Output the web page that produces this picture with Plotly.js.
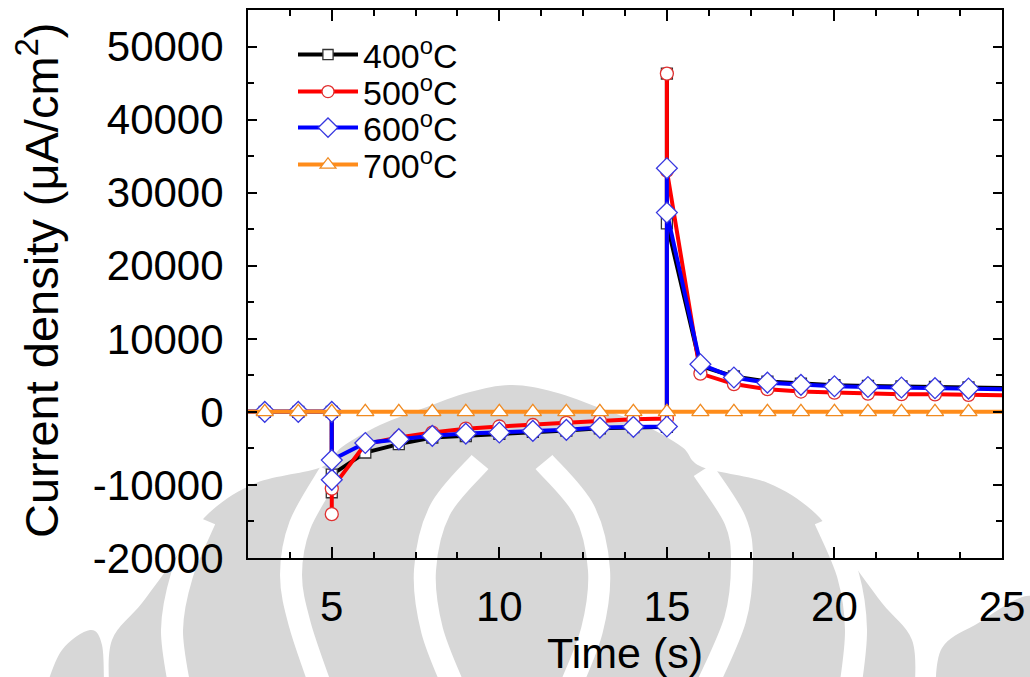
<!DOCTYPE html>
<html>
<head>
<meta charset="utf-8">
<script src="https://cdn.plot.ly/plotly-3.0.1.min.js"></script>
<style>html,body{margin:0;padding:0;background:#fff;}#chart{width:1030px;height:677px;}</style>
</head>
<body>
<div id="chart"></div>
<script>
// ---- data ----
const seriesNames = ["400<sup>o</sup>C", "500<sup>o</sup>C", "600<sup>o</sup>C", "700<sup>o</sup>C"];

const time400 = [2, 3, 4, 5, 5, 5, 6, 7, 8, 9, 10, 11, 12, 13, 14, 15, 15, 15, 16, 17, 18, 19, 20, 21, 22, 23, 24, 25];
const current400 = [0, 0, 0, 0, -11000, -8600, -5560, -4420, -3510, -3300, -3000, -2750, -2550, -2250, -2100, -2050, 46300, 25800, 6300, 4850, 4150, 3850, 3650, 3550, 3480, 3400, 3350, 3250];

const time500 = [2, 3, 4, 5, 5, 5, 6, 7, 8, 9, 10, 11, 12, 13, 14, 15, 15, 15, 16, 17, 18, 19, 20, 21, 22, 23, 24, 25];
const current500 = [0, 0, 0, 0, -14000, -10500, -4400, -3500, -2830, -2300, -2000, -1800, -1500, -1250, -1000, -900, 46300, 33000, 5240, 3800, 3100, 2780, 2640, 2500, 2420, 2400, 2330, 2280];

const time600 = [2, 3, 4, 5, 5, 5, 6, 7, 8, 9, 10, 11, 12, 13, 14, 15, 15, 15, 16, 17, 18, 19, 20, 21, 22, 23, 24, 25];
const current600 = [0, 0, 0, 0, -9300, -6600, -4260, -3740, -3280, -2970, -2830, -2600, -2460, -2150, -2050, -2000, 33340, 27270, 6520, 4700, 4000, 3700, 3500, 3400, 3330, 3240, 3190, 3100];

const time700 = [2, 3, 4, 5, 6, 7, 8, 9, 10, 11, 12, 13, 14, 15, 16, 17, 18, 19, 20, 21, 22, 23, 24, 25];
const current700 = [0, 0, 0, 0, 0, 0, 0, 0, 0, 0, 0, 0, 0, 0, 0, 0, 0, 0, 0, 0, 0, 0, 0, 0];

const xTickVals = [5, 10, 15, 20, 25];
const xTickText = ["5", "10", "15", "20", "25"];
const yTickVals = [-20000, -10000, 0, 10000, 20000, 30000, 40000, 50000];
const yTickText = ["-20000", "-10000", "0", "10000", "20000", "30000", "40000", "50000"];

// ---- styling ----
const FONT = "Liberation Sans, Arial, Helvetica, sans-serif";
const XR = [2.5, 25], YR = [-20000, 55000];
function sizesFor(xs, s) { return xs.map(v => (v < XR[0] || v > 24.9) ? 0 : s); }

const styles = [
  {line: "#000000", mk: "square", mkLine: "#333333", size: 11},
  {line: "#FF0000", mk: "circle", mkLine: "#E03030", size: 13},
  {line: "#0000FF", mk: "diamond", mkLine: "#3838E0", size: 16},
  {line: "#FF8C1A", mk: "triangle-up", mkLine: "#F08A20", size: 15}
];
const xs = [time400, time500, time600, time700];
const ys = [current400, current500, current600, current700];
const legendIds = ["legend", "legend2", "legend3", "legend4"];

const traces = xs.map((x, i) => ({
  type: "scatter", mode: "lines+markers", name: seriesNames[i],
  x: x, y: ys[i], legend: legendIds[i],
  line: {color: styles[i].line, width: 4},
  marker: {symbol: styles[i].mk, size: sizesFor(x, styles[i].size), color: "#FFFFFF", opacity: 1,
           line: {color: styles[i].mkLine, width: 1.3}},
  cliponaxis: true
}));

// plot-area geometry in pixels (for watermark shapes and annotations)
const L = 248, R = 1002, T = 10, B = 558;
const pxX = v => (v - L) / (R - L);
const pxY = v => (B - v) / (B - T);
// smooth path (Catmull-Rom -> Bezier) through pixel points, output in paper units
function smoothPath(pts, close) {
  const P = pts.map(p => [pxX(p[0]), pxY(p[1])]);
  let d = "M " + P[0][0] + "," + P[0][1];
  for (let i = 0; i < P.length - 1; i++) {
    const p0 = P[Math.max(i - 1, 0)], p1 = P[i], p2 = P[i + 1], p3 = P[Math.min(i + 2, P.length - 1)];
    const c1 = [p1[0] + (p2[0] - p0[0]) / 6, p1[1] + (p2[1] - p0[1]) / 6];
    const c2 = [p2[0] - (p3[0] - p1[0]) / 6, p2[1] - (p3[1] - p1[1]) / 6];
    d += " C " + c1[0] + "," + c1[1] + " " + c2[0] + "," + c2[1] + " " + p2[0] + "," + p2[1];
  }
  return d + (close ? " Z" : "");
}
const WM = "rgb(215,215,215)";
function wmFill(pts) {
  return {type: "path", xref: "paper", yref: "paper", layer: "below", fillcolor: WM,
          line: {width: 0}, path: smoothPath(pts, true)};
}
function wmGap(pts, w) {
  return {type: "path", xref: "paper", yref: "paper", layer: "below",
          line: {color: "#FFFFFF", width: w}, path: smoothPath(pts, false)};
}
const shapes = [
  wmFill([[109, 690], [112, 640], [142, 603], [176, 557], [209, 513], [256, 483], [322, 467], [342, 447],
          [380, 425], [424, 408], [470, 392], [512, 385], [554, 392], [600, 408], [644, 425], [682, 447],
          [702, 467], [768, 483], [815, 513], [848, 557], [882, 603], [912, 640], [915, 690]]),
  wmFill([[45, 690], [62, 650], [90, 630], [102, 645], [104, 690]]),
  wmFill([[935, 690], [942, 648], [975, 625], [1035, 598], [1035, 690]]),
  wmGap([[480, 462], [440, 510], [425, 570], [432, 630], [455, 690]], 22),
  wmGap([[544, 462], [584, 510], [599, 570], [592, 630], [569, 690]], 22),
  wmGap([[330, 472], [300, 525], [291, 575], [300, 625], [322, 690]], 22),
  wmGap([[703, 470], [735, 520], [742, 562], [735, 620], [705, 690]], 22),
  wmGap([[205, 520], [182, 575], [172, 630], [180, 690]], 22),
  wmGap([[825, 520], [848, 575], [856, 630], [850, 690]], 22)
];

const axisCommon = {
  showline: true, linecolor: "#000", linewidth: 2, mirror: "ticks",
  ticks: "inside", ticklen: 11, tickwidth: 2, tickcolor: "#000",
  showgrid: false, zeroline: false,
  tickfont: {family: FONT, size: 42, color: "#000"}
};

const legendBase = {
  x: pxX(293), xanchor: "left", yanchor: "middle",
  bgcolor: "rgba(0,0,0,0)", borderwidth: 0, itemwidth: 60,
  font: {family: FONT, size: 34, color: "#000"}
};
const legendYs = [55, 92, 128, 165];

const layout = {
  width: 1030, height: 677,
  margin: {l: L, r: 1030 - R, t: T, b: 677 - B, pad: 0},
  paper_bgcolor: "#FFFFFF", plot_bgcolor: "rgba(0,0,0,0)",
  font: {family: FONT, color: "#000"},
  showlegend: true,
  legend: Object.assign({}, legendBase, {y: pxY(legendYs[0])}),
  legend2: Object.assign({}, legendBase, {y: pxY(legendYs[1])}),
  legend3: Object.assign({}, legendBase, {y: pxY(legendYs[2])}),
  legend4: Object.assign({}, legendBase, {y: pxY(legendYs[3])}),
  xaxis: Object.assign({}, axisCommon, {range: XR, tickmode: "array", tickvals: xTickVals, ticktext: xTickText,
          ticklabelstandoff: 11,
          minor: {dtick: 1.25, tick0: 0, ticks: "inside", ticklen: 6, tickwidth: 2, tickcolor: "#000"}}),
  yaxis: Object.assign({}, axisCommon, {range: YR, tickmode: "array", tickvals: yTickVals, ticktext: yTickText,
          ticklabelstandoff: 14, ticklen: 9,
          minor: {dtick: 5000, tick0: 0, ticks: "inside", ticklen: 6, tickwidth: 2, tickcolor: "#000"}}),
  shapes: shapes,
  annotations: [
    {text: "Time (s)", xref: "paper", yref: "paper", x: pxX(625), y: pxY(653),
     xanchor: "center", yanchor: "middle", showarrow: false,
     font: {family: FONT, size: 43, color: "#000"}},
    {text: "Current density (\u03bcA/cm<sup>2</sup>)", xref: "paper", yref: "paper",
     x: pxX(38), y: pxY(280), xanchor: "center", yanchor: "middle", textangle: -90, showarrow: false,
     font: {family: FONT, size: 47, color: "#000"}}
  ]
};

Plotly.newPlot("chart", traces, layout, {displayModeBar: false, staticPlot: true});
</script>
</body>
</html>
